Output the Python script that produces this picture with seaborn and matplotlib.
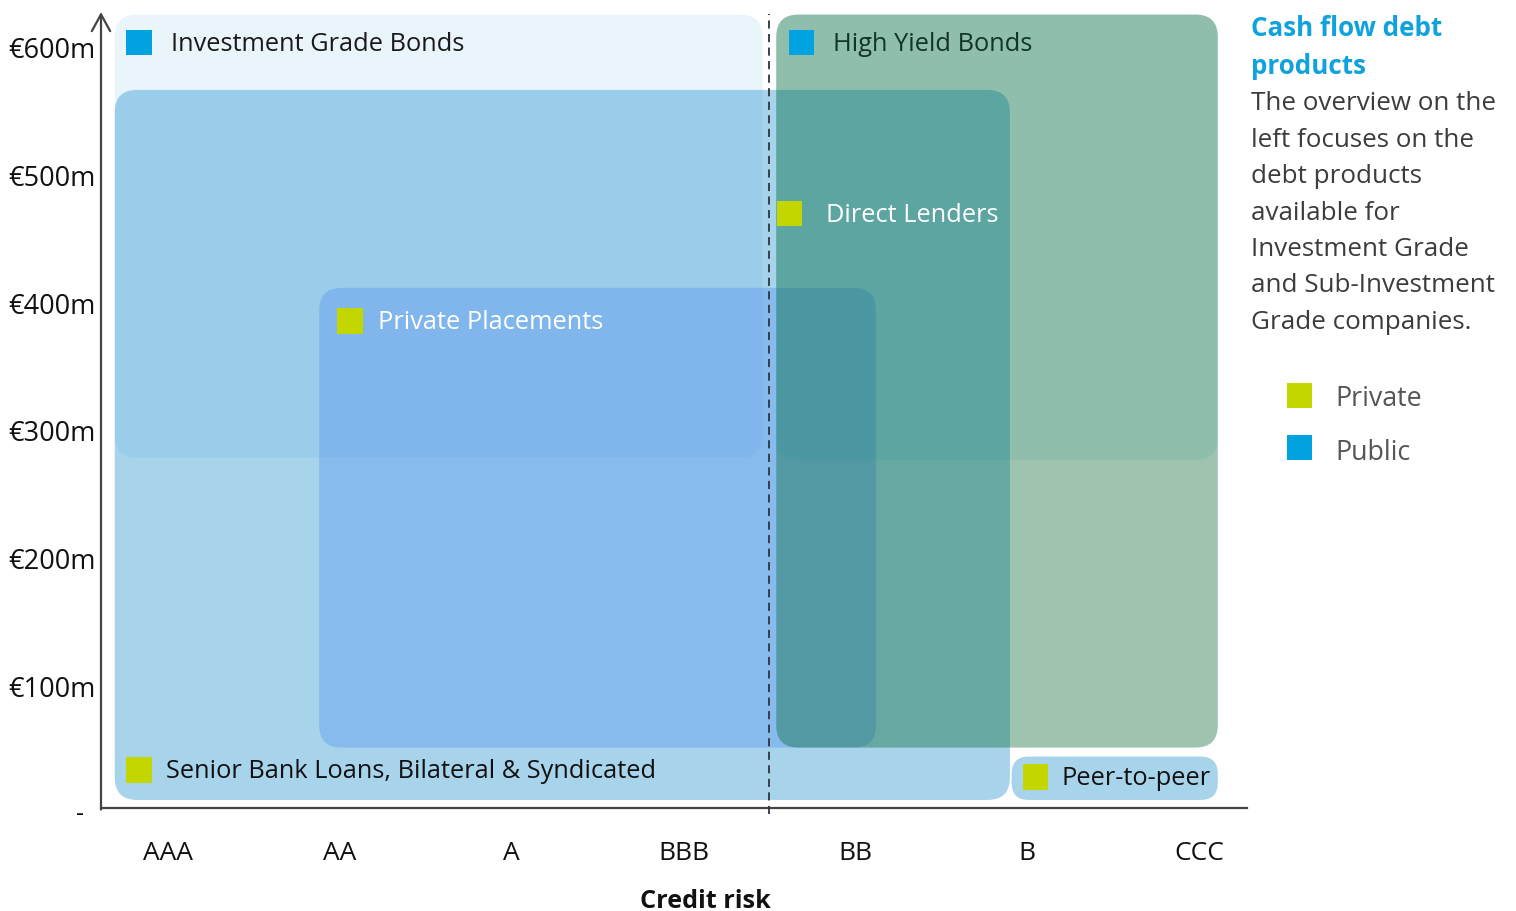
import matplotlib
matplotlib.use("Agg")
import matplotlib.pyplot as plt
from matplotlib.patches import FancyBboxPatch, Rectangle
import seaborn as sns
import pandas as pd

# ---------------- data ----------------
ratings = ["AAA", "AA", "A", "BBB", "BB", "B", "CCC"]
y_ticks = [100, 200, 300, 400, 500, 600]
y_tick_labels = ["€100m", "€200m", "€300m", "€400m", "€500m", "€600m"]

products = ["Investment Grade Bonds", "Senior Bank Loans, Bilateral & Syndicated",
            "Private Placements", "Direct Lenders", "High Yield Bonds", "Peer-to-peer"]
product_type = ["Public", "Private", "Private", "Private", "Public", "Private"]
# rating span (position on rating scale) and size span (€m)
rating_from = [-0.31, -0.31, 0.88, 3.54, 3.54, 4.91]
rating_to = [3.46, 4.90, 4.12, 6.11, 6.11, 6.11]
size_from = [279, 11, 52, 52, 277, 11]
size_to = [626, 567, 412, 626, 626, 45]

legend_labels = ["Private", "Public"]
side_title = ["Cash flow debt", "products"]
side_body = ["The overview on the", "left focuses on the", "debt products",
             "available for", "Investment Grade", "and Sub-Investment",
             "Grade companies."]

# ---------------- style ----------------
sns.set_theme(style="white")
plt.rcParams["font.family"] = ["Open Sans", "DejaVu Sans"]

W, H = 1516, 911
fig = plt.figure(figsize=(W / 100, H / 100), dpi=100)
ax_l, ax_r, ax_b, ax_t = 101, 1247, 808, 12
ax = fig.add_axes([ax_l / W, 1 - ax_b / H, (ax_r - ax_l) / W, (ax_b - ax_t) / H])
ax.set_xlim(-0.39, 6.28)
ax.set_ylim(4.7, 628)

x_px = (ax_r - ax_l) / (6.28 + 0.39)
y_px = (ax_b - ax_t) / (628 - 4.7)
aspect = x_px / y_px

fills = {
    "Investment Grade Bonds": ("#e9f4fb", 1.0, 1),
    "Senior Bank Loans, Bilateral & Syndicated": ((43/255, 150/255, 208/255), 0.41, 2),
    "Peer-to-peer": ((43/255, 150/255, 208/255), 0.41, 2),
    "Private Placements": ((97/255, 156/255, 240/255), 0.45, 3),
    "Direct Lenders": ((0/255, 100/255, 47/255), 0.38, 4),
    "High Yield Bonds": ((0/255, 140/255, 143/255), 0.09, 5),
}

for name, x0, x1, y0, y1 in zip(products, rating_from, rating_to, size_from, size_to):
    col, a, z = fills[name]
    r = 0.13 if name != "Peer-to-peer" else 0.10
    p = FancyBboxPatch((x0, y0), x1 - x0, y1 - y0,
                       boxstyle=f"round,pad=0,rounding_size={r}",
                       mutation_aspect=aspect, facecolor=col, alpha=a,
                       edgecolor="none", zorder=z)
    ax.add_patch(p)

# label anchors (layout): square position, text start, text colour
label_layout = {
    "Investment Grade Bonds": (-0.169, 604, 0.017, "#1a1a1a"),
    "High Yield Bonds": (3.685, 604, 3.871, "#123524"),
    "Direct Lenders": (3.615, 470, 3.83, "white"),
    "Private Placements": (1.059, 386, 1.222, "white"),
    "Senior Bank Loans, Bilateral & Syndicated": (-0.169, 34.5, -0.012, "#111111"),
    "Peer-to-peer": (5.047, 29, 5.198, "#111111"),
}
type_colors = {"Private": "#c4d600", "Public": "#00a3e0"}

sq = pd.DataFrame({
    "x": [label_layout[p][0] for p in products],
    "y": [label_layout[p][1] for p in products],
    "type": product_type,
})
sns.scatterplot(data=sq, x="x", y="y", hue="type", palette=type_colors,
                marker="s", s=330, linewidth=0, legend=False, ax=ax, zorder=10)

for name in products:
    sx, sy, tx, tc = label_layout[name]
    ax.text(tx, sy - 1.5, name, fontsize=18.3, color=tc, va="center", ha="left", zorder=11)

# dashed investment-grade boundary
ax.axvline(3.5, ymin=-0.008, ymax=0.997, color="#2b3440", lw=1.3,
           ls=(0, (4.5, 3)), zorder=12, clip_on=False)

# axes
for s in ["top", "right", "left"]:
    ax.spines[s].set_visible(False)
ax.spines["bottom"].set_color("#444444")
ax.spines["bottom"].set_linewidth(1.6)
ax.annotate("", xy=(0, 1), xycoords="axes fraction", xytext=(0, -0.002),
            textcoords="axes fraction",
            arrowprops=dict(arrowstyle="->,head_length=0.55,head_width=0.3",
                            color="#444444", lw=1.6, mutation_scale=22,
                            shrinkA=0, shrinkB=0))

ax.set_xticks(range(len(ratings)))
ax.set_xticklabels(ratings, fontsize=19, color="#111111")
ax.set_yticks(y_ticks)
ax.set_yticklabels(y_tick_labels, fontsize=19.5, color="#111111")
ax.tick_params(axis="x", length=0, pad=23.5)
ax.tick_params(axis="y", length=0, pad=4)
ax.text(-0.018, 0, "-", transform=ax.get_yaxis_transform(), fontsize=18,
        ha="center", va="center", color="#111111", clip_on=False)
ax.set_xlabel("")
ax.set_ylabel("")
ax.grid(False)
fig.text(705 / W, 1 - 901 / H, "Credit risk", fontsize=18.2, fontweight="bold",
         color="#111111", ha="center", va="center")

# side panel
for i, t in enumerate(side_title):
    fig.text(1251 / W, 1 - (29 + 37 * i) / H, t, fontsize=18.7, fontweight="bold",
             color="#10a2dd", va="center", ha="left")
for i, t in enumerate(side_body):
    fig.text(1251 / W, 1 - (104 + 36.4 * i) / H, t, fontsize=18.7,
             color="#3c3c3c", va="center", ha="left")
for i, lab in enumerate(legend_labels):
    cy = 395 + 53 * i
    fig.add_artist(Rectangle(((1299 - 12.5) / W, 1 - (cy + 12.5) / H), 25 / W, 25 / H,
                             transform=fig.transFigure, facecolor=type_colors[lab],
                             edgecolor="none"))
    fig.text(1335 / W, 1 - (cy + 4.5) / H, lab, fontsize=19.3, color="#555555",
             va="center", ha="left")

fig.savefig("out.png", dpi=100)
